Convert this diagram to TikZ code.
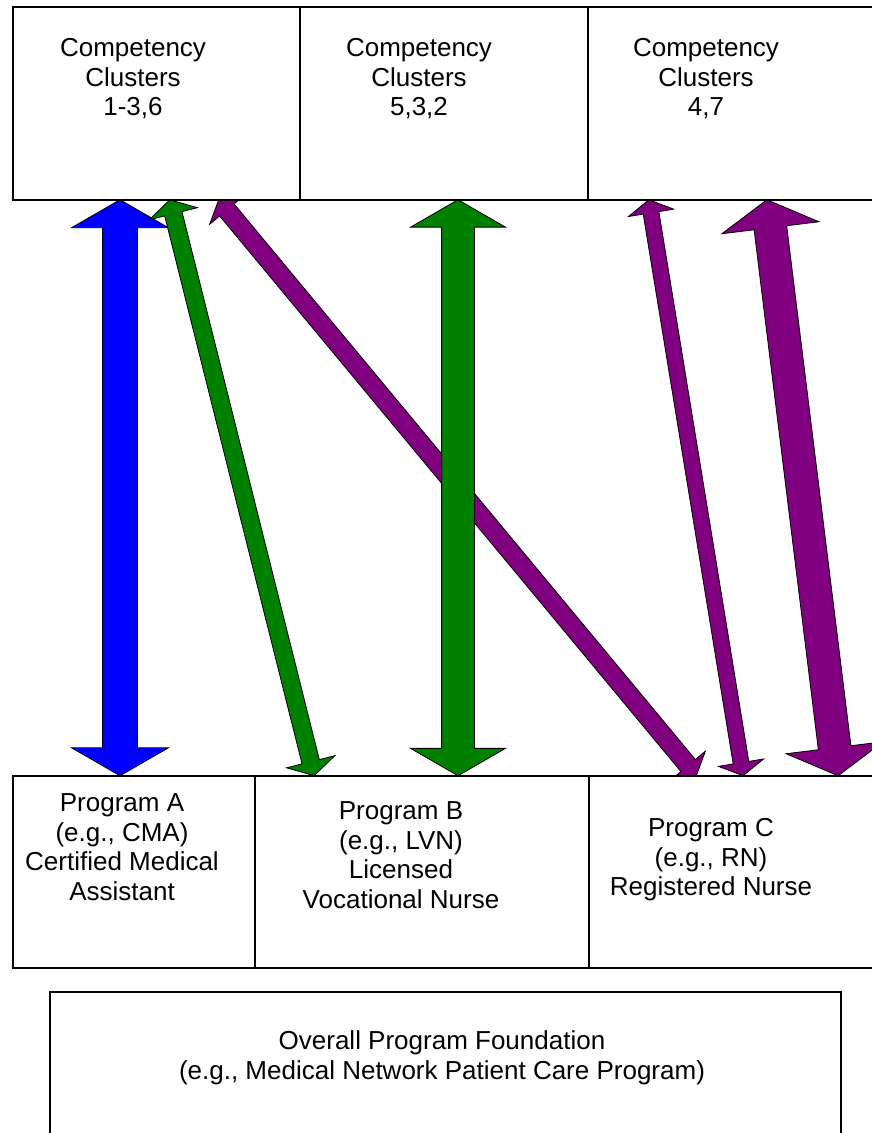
\documentclass[tikz,border=0pt]{standalone}
\usepackage{fontspec}
\setmainfont{Liberation Sans}
\usetikzlibrary{shapes.arrows}
\definecolor{arrowblue}{RGB}{0,0,255}
\definecolor{arrowgreen}{RGB}{0,128,0}
\definecolor{arrowpurple}{RGB}{128,0,128}
\pgfdeclarelayer{arrows}
\pgfsetlayers{arrows,main}

\begin{document}
\begin{tikzpicture}[x=1pt,y=1pt,
squarednode/.style={rectangle, draw=black, fill=white, line width=1.5pt, anchor=north west, inner sep=0pt},
textnode/.style={align=center, font=\fontsize{26}{29.5}\selectfont},
doublearrow/.style={double arrow, double arrow tip angle=120, draw=black, line width=0.8pt, inner xsep=0pt, sloped},
thinarrow/.style={doublearrow, inner ysep=8.5pt, double arrow head extend=15pt},
fatarrow/.style={doublearrow, inner ysep=16.5pt, double arrow head extend=31pt}
]
\useasboundingbox (0,0) rectangle (871,-1133);

%Nodes
\node[squarednode, minimum width=287pt, minimum height=193pt] at (12,-6) (CC-1) {};
\node[squarednode, minimum width=288pt, minimum height=193pt] at (299,-6) (CC-2) {};
\node[squarednode, minimum width=300pt, minimum height=193pt] at (587,-6) (CC-3) {};

\node[squarednode, minimum width=242pt, minimum height=192pt] at (12,-775) (PROG-A) {};
\node[squarednode, minimum width=334pt, minimum height=192pt] at (254,-775) (PROG-B) {};
\node[squarednode, minimum width=300pt, minimum height=192pt] at (588,-775) (PROG-C) {};

\node[squarednode, minimum width=791pt, minimum height=160pt] at (49,-991) (BASE) {};

%Texts
\node[textnode] at (133,-79) (CC-1-TEXT) {Competency\\Clusters\\1-3,6};
\node[textnode] at (419,-79) (CC-2-TEXT) {Competency\\Clusters\\5,3,2};
\node[textnode] at (706,-79) (CC-3-TEXT) {Competency\\Clusters\\4,7};

\node[textnode] at (122,-847) (PROG-A-TEXT) {Program A\\(e.g., CMA)\\Certified Medical\\Assistant};
\node[textnode] at (401,-855) (PROG-B-TEXT) {Program B\\(e.g., LVN)\\Licensed\\Vocational Nurse};
\node[textnode] at (711,-860) (PROG-C-TEXT) {Program C\\(e.g., RN)\\Registered Nurse};

\node[textnode] at (442,-1058) (BASE-TEXT) {Overall Program Foundation\\(e.g., Medical Network Patient Care Program)};

%Arrow ends
\coordinate (A-1-TOP) at (CC-1.south -| 120,0);
\coordinate (A-1-BOT) at (PROG-A.north -| 120,0);
\coordinate (A-2-TOP) at (CC-1.south -| 170,0);
\coordinate (A-2-BOT) at (PROG-B.north -| 314,0);
\coordinate (A-3-TOP) at (CC-1.south -| 219,0);
\coordinate (A-3-BOT) at (PROG-C.north -| 696,0);
\coordinate (A-4-TOP) at (CC-2.south -| 458,0);
\coordinate (A-4-BOT) at (PROG-B.north -| 458,0);
\coordinate (A-5-TOP) at (CC-3.south -| 649,0);
\coordinate (A-5-BOT) at (PROG-C.north -| 743,0);
\coordinate (A-6-TOP) at (CC-3.south -| 767,0);
\coordinate (A-6-BOT) at (PROG-C.north -| 838,0);

%Arrows
\begin{pgfonlayer}{arrows}
\path (A-1-TOP) -- node[fatarrow, fill=arrowblue, inner ysep=17pt, minimum height=576pt] (ARROW-1) {} (A-1-BOT);
\path (A-3-TOP) -- node[thinarrow, fill=arrowpurple, inner ysep=9pt, double arrow head extend=13pt, minimum height=748pt] (ARROW-3) {} (A-3-BOT);
\path (A-2-TOP) -- node[thinarrow, fill=arrowgreen, double arrow head extend=16pt, minimum height=593.7pt] (ARROW-2) {} (A-2-BOT);
\path (A-4-TOP) -- node[fatarrow, fill=arrowgreen, inner ysep=16pt, minimum height=576pt] (ARROW-4) {} (A-4-BOT);
\path (A-5-TOP) -- node[thinarrow, fill=arrowpurple, inner ysep=7.5pt, minimum height=583.6pt] (ARROW-5) {} (A-5-BOT);
\path (A-6-TOP) -- node[fatarrow, fill=arrowpurple, inner ysep=16pt, double arrow head extend=32.5pt, minimum height=580.4pt] (ARROW-6) {} (A-6-BOT);
\end{pgfonlayer}
\end{tikzpicture}
\end{document}
